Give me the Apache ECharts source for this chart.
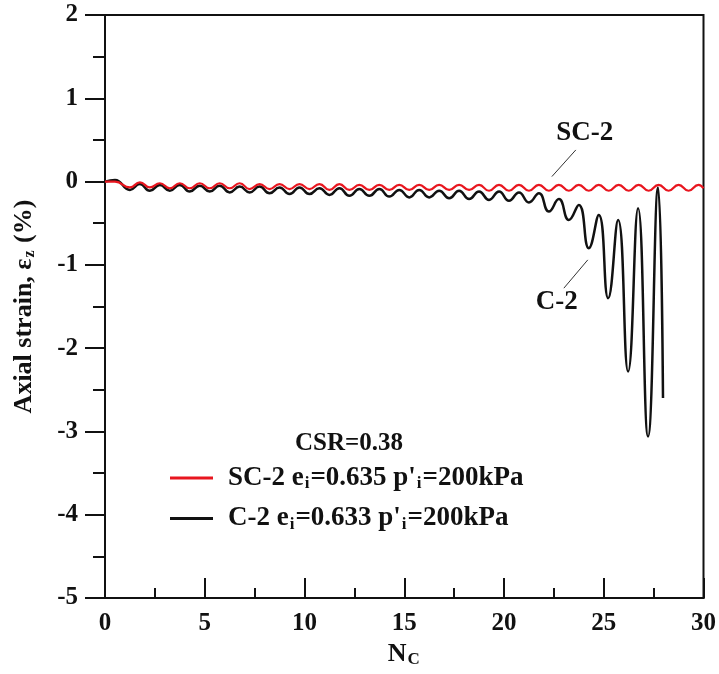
<!DOCTYPE html>
<html>
<head>
<meta charset="utf-8">
<script src="https://cdn.jsdelivr.net/npm/echarts@6/dist/echarts.min.js"></script>
<style>
  html, body { margin: 0; padding: 0; background: #fff; }
  #chart { width: 719px; height: 674px; }
</style>
</head>
<body>
<div id="chart"></div>
<script>
// C-2 (black): cycle number / axial strain at each peak and trough
const c2Cycles = [0, 0.5, 1.25, 1.75, 2.25, 2.75, 3.25, 3.75, 4.25, 4.75, 5.25, 5.75, 6.25, 6.75,
  7.25, 7.75, 8.25, 8.75, 9.25, 9.75, 10.25, 10.75, 11.25, 11.75, 12.25, 12.75, 13.25, 13.75,
  14.25, 14.75, 15.25, 15.75, 16.25, 16.75, 17.25, 17.75, 18.25, 18.75, 19.25, 19.75, 20.25, 20.75,
  21.25, 21.75, 22.25, 22.75, 23.25, 23.75, 24.25, 24.75, 25.22, 25.72, 26.22, 26.72, 27.22, 27.72, 27.97];
const c2Strain = [0, 0.02, -0.10, -0.03, -0.11, -0.04, -0.11, -0.04, -0.12, -0.05, -0.12, -0.05, -0.13, -0.06,
  -0.13, -0.06, -0.14, -0.07, -0.15, -0.07, -0.15, -0.08, -0.16, -0.08, -0.17, -0.09, -0.17, -0.09,
  -0.18, -0.10, -0.19, -0.10, -0.19, -0.11, -0.20, -0.11, -0.21, -0.12, -0.22, -0.12, -0.23, -0.13,
  -0.25, -0.14, -0.36, -0.21, -0.46, -0.28, -0.80, -0.40, -1.40, -0.46, -2.28, -0.32, -3.06, -0.07, -2.60];

// SC-2 (red)
const sc2Cycles = [0, 0.5, 1.25, 1.75, 2.25, 2.75, 3.25, 3.75, 4.25, 4.75, 5.25, 5.75, 6.25, 6.75,
  7.25, 7.75, 8.25, 8.75, 9.25, 9.75, 10.25, 10.75, 11.25, 11.75, 12.25, 12.75, 13.25, 13.75,
  14.25, 14.75, 15.25, 15.75, 16.25, 16.75, 17.25, 17.75, 18.25, 18.75, 19.25, 19.75, 20.25, 20.75,
  21.25, 21.75, 22.25, 22.75, 23.25, 23.75, 24.25, 24.75, 25.25, 25.75, 26.25, 26.75, 27.25, 27.75,
  28.25, 28.75, 29.25, 29.75, 30];
const sc2Strain = [0, 0.0, -0.07, -0.01, -0.07, -0.02, -0.08, -0.02, -0.08, -0.02, -0.08, -0.02, -0.08, -0.02,
  -0.09, -0.03, -0.09, -0.03, -0.09, -0.03, -0.09, -0.03, -0.10, -0.03, -0.10, -0.04, -0.10, -0.04,
  -0.10, -0.04, -0.10, -0.04, -0.10, -0.04, -0.10, -0.04, -0.10, -0.04, -0.11, -0.04, -0.11, -0.04,
  -0.11, -0.04, -0.11, -0.04, -0.11, -0.04, -0.11, -0.04, -0.11, -0.04, -0.11, -0.04, -0.11, -0.04,
  -0.11, -0.04, -0.11, -0.04, -0.08];

const xTicks = { min: 0, max: 30, step: 5 };
const yTicks = { min: -5, max: 2, step: 1 };

// annotation labels and leader lines (data coords)
const notes = [
  { text: 'SC-2', at: [24.05, 0.58], from: [23.6, 0.38], to: [22.4, 0.06] },
  { text: 'C-2', at: [22.65, -1.45], from: [24.2, -0.94], to: [23.0, -1.28] }
];

const zip = (xs, ys) => xs.map((x, i) => [x, ys[i]]);
const FONT = 'Liberation Serif';
const INK = '#111';
const RED = '#e8161f';

const legendText = {
  'SC-2': "{g|}{n|SC-2 e}{s|i}{n|=0.635 p'}{s|i}{n|=200kPa}",
  'C-2': "{g|}{n|C-2 e}{s|i}{n|=0.633 p'}{s|i}{n|=200kPa}"
};

function richSet(size, sub) {
  return {
    g: { width: 10 },
    n: { fontFamily: FONT, fontWeight: 'bold', fontSize: size, color: INK },
    s: { fontFamily: FONT, fontWeight: 'bold', fontSize: sub, color: INK, padding: [Math.round(size * 0.45), 1, 0, 1] }
  };
}

function noteMarks(i) {
  const n = notes[i];
  return {
    markLine: {
      silent: true, symbol: ['none', 'none'],
      lineStyle: { color: '#333', width: 1, type: 'solid' },
      label: { show: false },
      data: [[{ coord: n.from }, { coord: n.to }]]
    },
    markPoint: {
      silent: true, symbol: 'circle', symbolSize: 1,
      itemStyle: { color: 'rgba(0,0,0,0)' },
      label: { show: true, position: 'inside', formatter: n.text,
        fontFamily: FONT, fontWeight: 'bold', fontSize: 27, color: INK },
      data: [{ coord: n.at }]
    }
  };
}

const chart = echarts.init(document.getElementById('chart'));
chart.setOption({
  animation: false,
  backgroundColor: '#fff',
  title: {
    text: 'CSR=0.38', left: 295, top: 431, padding: 0,
    textStyle: { fontFamily: FONT, fontWeight: 'bold', fontSize: 25, color: INK }
  },
  legend: {
    orient: 'vertical', left: 170, top: 464, padding: 0,
    icon: 'rect', itemWidth: 43, itemHeight: 3, itemGap: 12,
    data: ['SC-2', 'C-2'],
    formatter: name => legendText[name],
    textStyle: { fontFamily: FONT, fontWeight: 'bold', fontSize: 27, color: INK, lineHeight: 28, rich: richSet(27, 17) }
  },
  grid: {
    left: 105, right: 14, top: 15, bottom: 76,
    show: true, borderColor: INK, borderWidth: 2, backgroundColor: 'transparent'
  },
  xAxis: {
    type: 'value', min: xTicks.min, max: xTicks.max, interval: xTicks.step,
    name: '{n|N}{s|C}', nameLocation: 'middle', nameGap: 40,
    nameTextStyle: { rich: richSet(26, 17) },
    axisLine: { onZero: false, lineStyle: { color: INK, width: 2 } },
    axisTick: { inside: true, length: 20, lineStyle: { color: INK, width: 2 } },
    minorTick: { show: true, splitNumber: 2, length: 10, lineStyle: { color: INK, width: 2 } },
    splitLine: { show: false },
    axisLabel: { margin: 13, fontFamily: FONT, fontWeight: 'bold', fontSize: 25, color: INK }
  },
  yAxis: {
    type: 'value', min: yTicks.min, max: yTicks.max, interval: yTicks.step,
    name: '{n|Axial strain, ε}{s|z}{n| (%)}', nameLocation: 'middle', nameGap: 67,
    nameTextStyle: { rich: richSet(26, 16) },
    axisLine: { onZero: false, lineStyle: { color: INK, width: 2 } },
    axisTick: { inside: false, length: 20, lineStyle: { color: INK, width: 2 } },
    minorTick: { show: true, splitNumber: 2, length: 12, lineStyle: { color: INK, width: 2 } },
    splitLine: { show: false },
    axisLabel: { margin: 27, fontFamily: FONT, fontWeight: 'bold', fontSize: 25, color: INK }
  },
  series: [
    Object.assign({
      name: 'SC-2', type: 'line', data: zip(sc2Cycles, sc2Strain),
      smooth: 0.5, symbol: 'none', z: 3,
      lineStyle: { color: RED, width: 2.2 }, itemStyle: { color: RED }
    }, noteMarks(0)),
    Object.assign({
      name: 'C-2', type: 'line', data: zip(c2Cycles, c2Strain),
      smooth: 0.5, symbol: 'none', z: 2,
      lineStyle: { color: INK, width: 2.5 }, itemStyle: { color: INK }
    }, noteMarks(1))
  ]
});
</script>
</body>
</html>
